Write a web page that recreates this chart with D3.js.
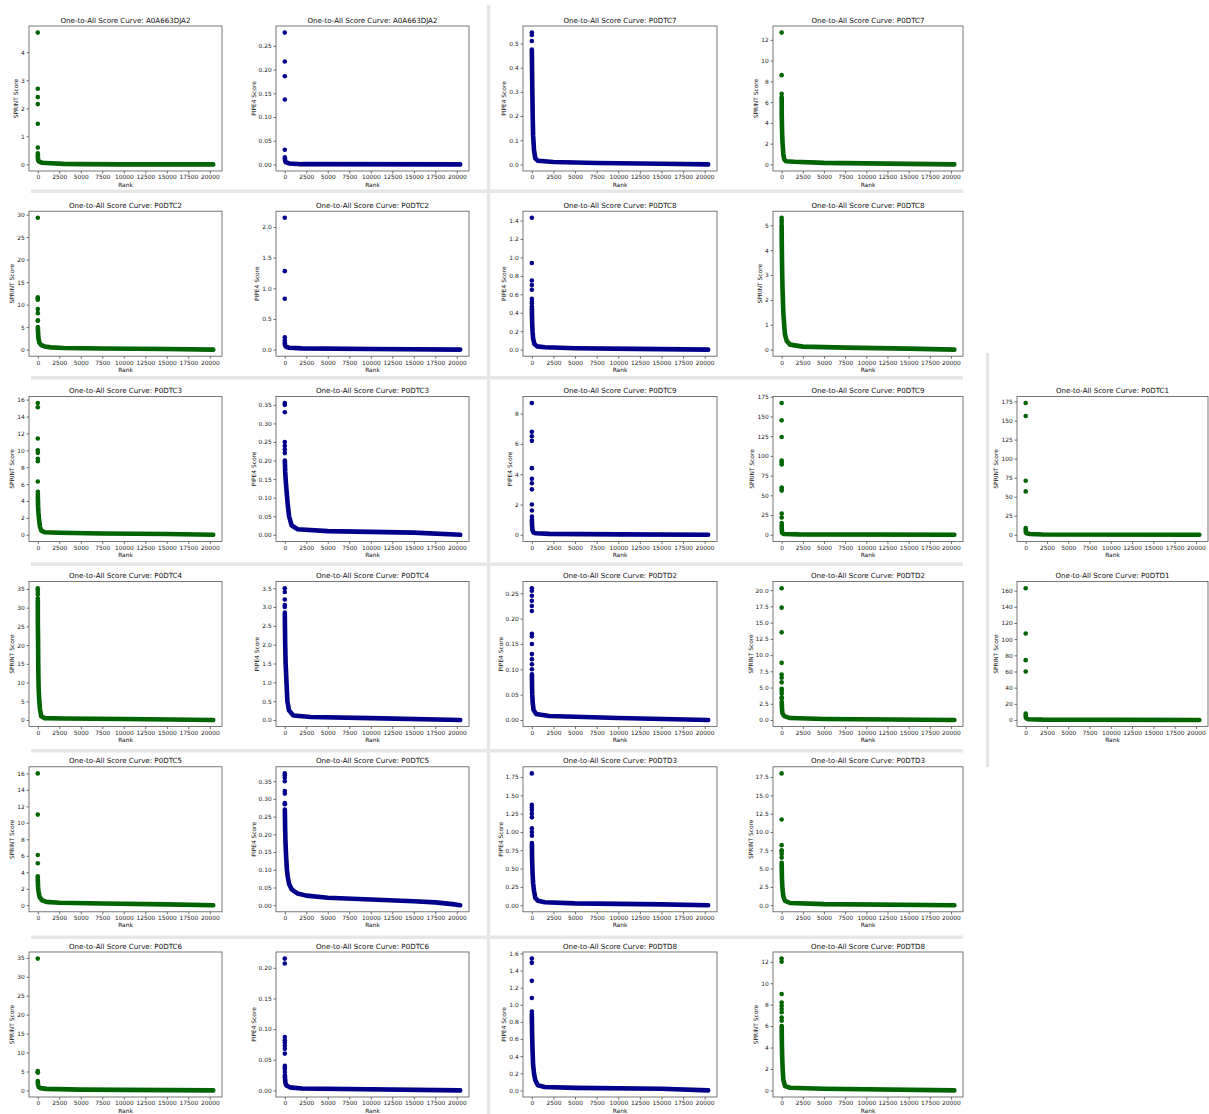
<!DOCTYPE html>
<html><head><meta charset="utf-8">
<script src="https://cdn.jsdelivr.net/npm/d3@7"></script>
<style>
body{margin:0;background:#fff}
svg{display:block}
text{font-family:"DejaVu Sans",sans-serif}
</style>
</head><body>
<svg id="chart" width="1209" height="1114"></svg>
<script>
// ---------------- DATA ----------------
const proteins = [
  "A0A663DJA2","A0A663DJA2","P0DTC7","P0DTC7",
  "P0DTC2","P0DTC2","P0DTC8","P0DTC8",
  "P0DTC3","P0DTC3","P0DTC9","P0DTC9","P0DTC1",
  "P0DTC4","P0DTC4","P0DTD2","P0DTD2","P0DTD1",
  "P0DTC5","P0DTC5","P0DTD3","P0DTD3",
  "P0DTC6","P0DTC6","P0DTD8","P0DTD8"
];
const methods = [
  "SPRINT","PIPE4","PIPE4","SPRINT",
  "SPRINT","PIPE4","PIPE4","SPRINT",
  "SPRINT","PIPE4","PIPE4","SPRINT","SPRINT",
  "SPRINT","PIPE4","PIPE4","SPRINT","SPRINT",
  "SPRINT","PIPE4","PIPE4","SPRINT",
  "SPRINT","PIPE4","PIPE4","SPRINT"
];
const rankCount = 20400;
// isolated top-ranked scores (ranks 0,1,2,...)
const topScores = [
  [4.7,2.7,2.4,2.15,1.45,0.6,0.4],
  [0.278,0.217,0.186,0.137,0.031],
  [0.545,0.535,0.51,0.475],
  [12.7,8.6,6.8],
  [29.3,11.6,11.3,11.1,9.0,8.1,6.5,6.4],
  [2.15,1.28,0.83,0.2,0.15],
  [1.43,0.94,0.75,0.70,0.65,0.55,0.52,0.5,0.47],
  [5.3,5.2,5.1],
  [15.6,15.1,11.4,10.0,9.7,9.0,8.7,6.3,5.1,4.8],
  [0.355,0.35,0.33,0.25,0.24,0.23,0.22],
  [8.7,6.8,6.5,6.2,4.4,3.7,3.4,3.0,2.0,1.6,1.2],
  [167,145,124,94,92,89,60,58,56,27,22,15,12,10],
  [173,156,71,57],
  [35.2,34.7,34.2,33.5,32.5],
  [3.5,3.4,3.2,3.05,3.0,2.85],
  [0.26,0.255,0.245,0.235,0.225,0.215,0.17,0.165,0.15,0.13,0.12,0.11,0.1],
  [20.3,17.3,13.5,8.8,7.0,6.5,5.8,4.8,4.5,4.1,3.5,3.3],
  [163,107,74,60],
  [16.0,11.0,6.1,5.1,3.5,3.3,3.1],
  [0.372,0.367,0.36,0.35,0.322,0.315,0.288,0.285],
  [1.8,1.37,1.33,1.3,1.25,1.2,1.05,1.0,0.95],
  [18.0,11.7,8.2,7.5,7.3,7.0,6.5],
  [34.8,5.1,4.8,4.7],
  [0.215,0.207,0.087,0.082,0.078,0.073,0.068,0.06,0.04,0.037,0.035,0.03],
  [1.54,1.49,1.28,1.08,0.92,0.89],
  [12.3,12.0,9.0,8.2,7.9,7.6,7.3,6.8,6.5]
];
// dense remainder of each ranked curve: [rank, score]
const tailCurves = [
  [[7,0.33],[15,0.25],[40,0.15],[150,0.1],[500,0.06],[1500,0.04],[3000,0.02],[5000,0.01],[10000,0.0],[20400,0.0]],
  [[5,0.015],[20,0.01],[100,0.005],[500,0.002],[2000,0.0005],[20400,0.0]],
  [[4,0.47],[30,0.39],[60,0.3],[100,0.2],[150,0.12],[250,0.06],[400,0.025],[700,0.015],[2500,0.01],[7500,0.006],[15000,0.003],[20400,0.0]],
  [[3,6.5],[8,6.2],[10,5.8],[15,4.8],[30,4.0],[60,3.0],[100,2.2],[200,1.0],[300,0.5],[500,0.3],[1500,0.25],[5000,0.15],[10000,0.1],[15000,0.05],[20400,0.0]],
  [[8,5.0],[30,4.0],[80,2.5],[200,1.5],[400,1.0],[800,0.7],[1500,0.5],[3000,0.35],[7500,0.25],[15000,0.15],[20400,0.0]],
  [[5,0.12],[20,0.08],[100,0.05],[500,0.03],[2000,0.02],[10000,0.01],[20400,0.0]],
  [[9,0.45],[20,0.38],[40,0.3],[80,0.2],[150,0.12],[300,0.06],[600,0.035],[1500,0.025],[5000,0.015],[12000,0.008],[20400,0.0]],
  [[3,5.0],[10,4.6],[20,4.2],[35,3.8],[50,3.4],[70,3.0],[100,2.5],[150,2.0],[200,1.5],[300,1.0],[400,0.6],[600,0.35],[1000,0.2],[2500,0.12],[7500,0.08],[15000,0.04],[20400,0.0]],
  [[10,4.5],[20,4.0],[40,3.3],[80,2.6],[150,1.8],[250,1.0],[400,0.5],[800,0.3],[2500,0.25],[7500,0.15],[15000,0.1],[20400,0.0]],
  [[7,0.2],[20,0.19],[50,0.17],[100,0.15],[200,0.12],[350,0.08],[500,0.05],[800,0.025],[1500,0.015],[5000,0.01],[10000,0.008],[15000,0.006],[20400,0.0]],
  [[11,1.0],[30,0.6],[80,0.3],[200,0.15],[500,0.1],[2000,0.06],[10000,0.03],[20400,0.0]],
  [[14,8],[30,4],[80,2],[300,1],[2000,0.5],[20400,0.0]],
  [[4,9],[10,6],[30,3],[100,2],[500,1],[2000,0.5],[20400,0.0]],
  [[5,32],[8,26],[15,25],[25,23],[35,21],[45,18],[55,15],[70,12],[100,8.5],[150,6],[250,3],[400,1.0],[800,0.5],[3000,0.4],[10000,0.25],[20400,0.0]],
  [[6,2.8],[20,2.5],[50,2.0],[100,1.5],[200,1.0],[300,0.5],[500,0.25],[1000,0.12],[3000,0.08],[10000,0.05],[20400,0.0]],
  [[13,0.09],[25,0.07],[50,0.05],[100,0.035],[200,0.02],[500,0.012],[2000,0.008],[10000,0.004],[20400,0.0]],
  [[12,2.8],[25,2.2],[50,1.5],[100,1.0],[300,0.6],[1000,0.3],[5000,0.15],[20400,0.0]],
  [[4,8],[8,6],[20,3],[80,2],[300,1],[2000,0.5],[20400,0.0]],
  [[7,3.0],[20,2.6],[50,2.1],[100,1.6],[200,1.0],[500,0.6],[1000,0.4],[2500,0.3],[7500,0.2],[15000,0.1],[20400,0.0]],
  [[8,0.27],[20,0.25],[40,0.22],[80,0.18],[150,0.14],[250,0.1],[350,0.08],[500,0.06],[800,0.045],[1500,0.033],[2500,0.027],[5000,0.021],[10000,0.016],[15000,0.011],[17500,0.008],[19500,0.003],[20400,0.0]],
  [[9,0.85],[20,0.75],[40,0.6],[80,0.45],[150,0.3],[250,0.2],[400,0.1],[700,0.06],[1500,0.04],[5000,0.025],[15000,0.012],[20400,0.0]],
  [[7,5.8],[15,5.0],[30,4.0],[60,3.0],[100,2.2],[200,1.2],[400,0.6],[1000,0.3],[5000,0.15],[20400,0.0]],
  [[4,2.5],[10,2.0],[30,1.5],[100,0.9],[300,0.6],[1000,0.4],[5000,0.2],[20400,0.0]],
  [[12,0.025],[30,0.02],[80,0.012],[200,0.008],[600,0.005],[2000,0.003],[20400,0.0]],
  [[6,0.87],[15,0.8],[30,0.7],[60,0.55],[100,0.42],[150,0.3],[250,0.2],[400,0.12],[700,0.06],[1500,0.04],[5000,0.03],[15000,0.02],[20400,0.0]],
  [[9,6.0],[20,5.0],[40,4.0],[70,3.0],[120,2.0],[200,1.0],[400,0.4],[1000,0.25],[5000,0.15],[20400,0.0]]
];
const xTickLabels = ["0","2500","5000","7500","10000","12500","15000","17500","20000"];
const yTickLabels = [
  ["0","1","2","3","4"],
  ["0.00","0.05","0.10","0.15","0.20","0.25"],
  ["0.0","0.1","0.2","0.3","0.4","0.5"],
  ["0","2","4","6","8","10","12"],
  ["0","5","10","15","20","25","30"],
  ["0.0","0.5","1.0","1.5","2.0"],
  ["0.0","0.2","0.4","0.6","0.8","1.0","1.2","1.4"],
  ["0","1","2","3","4","5"],
  ["0","2","4","6","8","10","12","14","16"],
  ["0.00","0.05","0.10","0.15","0.20","0.25","0.30","0.35"],
  ["0","2","4","6","8"],
  ["0","25","50","75","100","125","150","175"],
  ["0","25","50","75","100","125","150","175"],
  ["0","5","10","15","20","25","30","35"],
  ["0.0","0.5","1.0","1.5","2.0","2.5","3.0","3.5"],
  ["0.00","0.05","0.10","0.15","0.20","0.25"],
  ["0.0","2.5","5.0","7.5","10.0","12.5","15.0","17.5","20.0"],
  ["0","20","40","60","80","100","120","140","160"],
  ["0","2","4","6","8","10","12","14","16"],
  ["0.00","0.05","0.10","0.15","0.20","0.25","0.30","0.35"],
  ["0.00","0.25","0.50","0.75","1.00","1.25","1.50","1.75"],
  ["0.0","2.5","5.0","7.5","10.0","12.5","15.0","17.5"],
  ["0","5","10","15","20","25","30","35"],
  ["0.00","0.05","0.10","0.15","0.20"],
  ["0.0","0.2","0.4","0.6","0.8","1.0","1.2","1.4","1.6"],
  ["0","2","4","6","8","10","12"]
];

// ---------------- LAYOUT ----------------
const slots = [
  [0,0],[0,1],[0,2],[0,3],
  [1,0],[1,1],[1,2],[1,3],
  [2,0],[2,1],[2,2],[2,3],[2,4],
  [3,0],[3,1],[3,2],[3,3],[3,4],
  [4,0],[4,1],[4,2],[4,3],
  [5,0],[5,1],[5,2],[5,3]
];
const colEdges = [[29,222],[276,469],[523,717],[773,963],[1017,1208]];
const rowBottom = r => 171 + 185.2 * r;
const plotH = 145;
const colorOf = {SPRINT:"#006400", PIPE4:"#00008b"};
const sepColor = "#e6e6e6";

const svg = d3.select("#chart");

// separators
const hLines = [191, 377.5, 564, 750.5, 937];
svg.append("g").selectAll("rect").data(hLines).join("rect")
  .attr("x",31).attr("width",932).attr("y",d=>d-1.5).attr("height",3.5).attr("fill",sepColor);
svg.append("rect").attr("x",486.8).attr("y",5).attr("width",3.4).attr("height",1109).attr("fill",sepColor);
svg.append("rect").attr("x",985.8).attr("y",353).attr("width",3.4).attr("height",414).attr("fill",sepColor);

proteins.forEach((prot,i)=>{
  const [r,c] = slots[i];
  const [x0,x1] = colEdges[c];
  const y1 = rowBottom(r), y0 = y1 - plotH;
  const col = colorOf[methods[i]];
  const tops = topScores[i].map((v,k)=>[k,v]);
  const tail = tailCurves[i];
  const all = tops.concat(tail);
  const ymin = d3.min(all,d=>d[1]), ymax = d3.max(all,d=>d[1]);
  const pad = (ymax-ymin)*0.05;
  const x = d3.scaleLinear().domain([-0.05*rankCount, 1.05*rankCount]).range([x0,x1]);
  const y = d3.scaleLinear().domain([ymin-pad, ymax+pad]).range([y1,y0]);
  const g = svg.append("g");

  g.append("path").datum(tail)
    .attr("d", d3.line().x(d=>x(d[0])).y(d=>y(d[1])))
    .attr("fill","none").attr("stroke",col).attr("stroke-width",4.6)
    .attr("stroke-linecap","round").attr("stroke-linejoin","round");
  g.append("g").selectAll("circle").data(tops).join("circle")
    .attr("cx",d=>x(d[0])).attr("cy",d=>y(d[1])).attr("r",2.3).attr("fill",col);

  const xa = g.append("g").attr("transform",`translate(0,${y1})`)
    .call(d3.axisBottom(x).tickValues(xTickLabels.map(Number))
      .tickFormat((d,k)=>xTickLabels[k]).tickSize(2.5).tickPadding(1.8));
  const yt = yTickLabels[i];
  const ya = g.append("g").attr("transform",`translate(${x0},0)`)
    .call(d3.axisLeft(y).tickValues(yt.map(Number))
      .tickFormat((d,k)=>yt[k]).tickSize(2.5).tickPadding(1.8));
  [xa,ya].forEach(a=>{
    a.select(".domain").remove();
    a.selectAll("line").attr("stroke","#333").attr("stroke-width",0.7);
    a.selectAll("text").attr("font-size",5.9).attr("fill","#222")
      .attr("font-family","DejaVu Sans");
  });

  g.append("rect").attr("x",x0).attr("y",y0).attr("width",x1-x0).attr("height",y1-y0)
    .attr("fill","none").attr("stroke","#555").attr("stroke-width",0.8);

  g.append("text").attr("x",(x0+x1)/2).attr("y",y0-3.5).attr("text-anchor","middle")
    .attr("font-size",7.1).attr("fill","#111").text(`One-to-All Score Curve: ${prot}`);
  g.append("text").attr("x",(x0+x1)/2).attr("y",y1+15.5).attr("text-anchor","middle")
    .attr("font-size",5.9).attr("fill","#111").text("Rank");
  const bb = ya.node().getBBox();
  g.append("text").attr("transform",`translate(${x0+bb.x-3},${(y0+y1)/2}) rotate(-90)`)
    .attr("text-anchor","middle").attr("font-size",5.9).attr("fill","#111")
    .text(`${methods[i]} Score`);
});
</script>
</body></html>
